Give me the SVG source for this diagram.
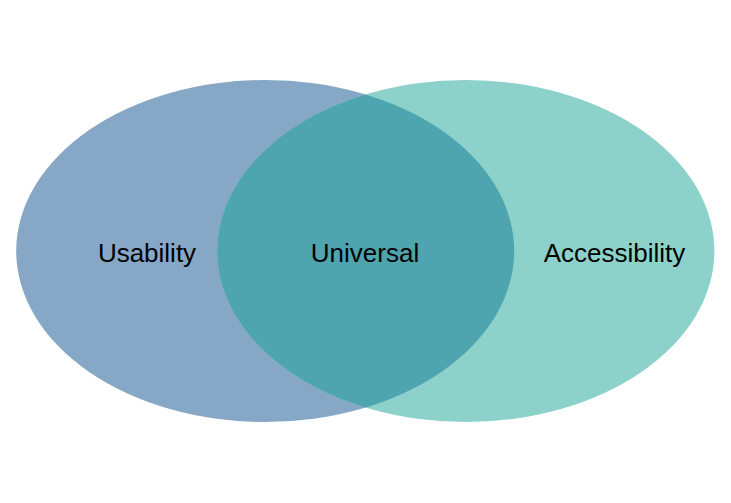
<svg xmlns="http://www.w3.org/2000/svg" width="731" height="503" viewBox="0 0 731 503">
<style>
.lbl{font-family:"Liberation Sans",Arial,sans-serif;font-size:26px;fill:#000;text-anchor:middle}
</style>
<defs>
<clipPath id="clipLeft"><ellipse cx="265.2" cy="251" rx="249" ry="171"/></clipPath>
</defs>
<rect width="731" height="503" fill="#ffffff"/>
<g id="usability">
<ellipse cx="265.2" cy="251" rx="249" ry="171" fill="#86A8C6"/>
<text class="lbl" x="147" y="262">Usability</text>
</g>
<g id="accessibility">
<ellipse cx="465.8" cy="251" rx="248.6" ry="171" fill="#8DD2CA"/>
<text class="lbl" x="614.5" y="262">Accessibility</text>
</g>
<g id="universal">
<ellipse cx="465.8" cy="251" rx="248.6" ry="171" fill="#4EA5AF" clip-path="url(#clipLeft)"/>
<text class="lbl" x="365" y="262">Universal</text>
</g>
<g id="connectors"></g>
</svg>
